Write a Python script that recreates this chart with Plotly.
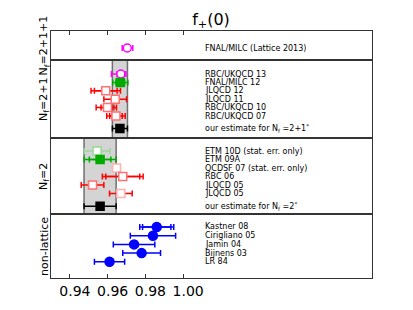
import plotly.graph_objects as go
from plotly.subplots import make_subplots

# ---------------- data ----------------
title_text = "f<sub>+</sub>(0)"
panel_names = ["N<sub>f</sub>=2+1+1", "N<sub>f</sub>=2+1", "N<sub>f</sub>=2", "non-lattice"]
tick_vals = [0.94, 0.96, 0.98, 1.00]
tick_text = ["0.94", "0.96", "0.98", "1.00"]

# Nf = 2+1+1
labels_4f = ["FNAL/MILC (Lattice 2013)"]
val_4f = [0.9704]
errp_4f = [0.0029]
errm_4f = [0.0027]
stat_4f = [0.0]

# Nf = 2+1
labels_3f = ["RBC/UKQCD 13", "FNAL/MILC 12", "JLQCD 12", "JLQCD 11", "RBC/UKQCD 10", "RBC/UKQCD 07"]
val_3f = [0.9670, 0.9667, 0.9590, 0.9640, 0.9599, 0.9644]
errp_3f = [0.0027, 0.0040, 0.0078, 0.0060, 0.0048, 0.0049]
errm_3f = [0.0050, 0.0040, 0.0078, 0.0060, 0.0060, 0.0049]
stat_3f = [0.0020, 0.0023, 0.0060, 0.0, 0.0034, 0.0033]
est_label_3f = "our estimate for N<sub>f</sub> =2+1<sup>*</sup>"
est_val_3f = 0.9665
est_err_3f = 0.0040

# Nf = 2
labels_2f = ["ETM 10D (stat. err. only)", "ETM 09A", "QCDSF 07 (stat. err. only)", "RBC 06", "JLQCD 05", "JLQCD 05"]
val_2f = [0.9544, 0.9560, 0.9647, 0.9680, 0.9520, 0.9670]
errp_2f = [0.0068, 0.0084, 0.0015, 0.0108, 0.0060, 0.0060]
errm_2f = [0.0068, 0.0084, 0.0015, 0.0108, 0.0060, 0.0060]
stat_2f = [0.0, 0.0057, 0.0, 0.0090, 0.0, 0.0]
est_label_2f = "our estimate for N<sub>f</sub> =2<sup>*</sup>"
est_val_2f = 0.9560
est_err_2f = 0.0085

# non-lattice
labels_nl = ["Kastner 08", "Cirigliano 05", "Jamin 04", "Bijnens 03", "LR 84"]
val_nl = [0.986, 0.984, 0.974, 0.978, 0.961]
errp_nl = [0.0090, 0.012, 0.011, 0.010, 0.008]
errm_nl = [0.0090, 0.012, 0.011, 0.010, 0.008]
stat_nl = [0.0075, 0.0, 0.0, 0.0, 0.0]

# ---------------- styles ----------------
MAG = "#ff00ff"
GRN = "#00aa00"
LGRN = "#99d699"
RED = "#ff0000"
PINK = "#ff7070"
LPINK = "#ffb0b0"
BLK = "#000000"
BLU = "#0000ff"

style_4f = [dict(sym="circle", bar=MAG, edge=MAG, fill="white", size=8)]
style_3f = [
    dict(sym="circle", bar=MAG, edge=MAG, fill="white", size=8),
    dict(sym="square", bar=GRN, edge=GRN, fill=GRN, size=8),
    dict(sym="square", bar=RED, edge=PINK, fill="white", size=8),
    dict(sym="square", bar=RED, edge=PINK, fill="white", size=8),
    dict(sym="square", bar=RED, edge=PINK, fill="white", size=8),
    dict(sym="square", bar=RED, edge=PINK, fill="white", size=8),
]
style_2f = [
    dict(sym="square", bar=LGRN, edge=LGRN, fill="white", size=8),
    dict(sym="square", bar=GRN, edge=GRN, fill=GRN, size=8),
    dict(sym="square", bar=LPINK, edge=LPINK, fill="white", size=8),
    dict(sym="square", bar=RED, edge=PINK, fill="white", size=8),
    dict(sym="square", bar=RED, edge=PINK, fill="white", size=8),
    dict(sym="square", bar=RED, edge=LPINK, fill="white", size=8),
]
style_est = dict(sym="square", bar=BLK, edge=BLK, fill=BLK, size=8)
style_nl = dict(sym="circle", bar=BLU, edge=BLU, fill=BLU, size=9)

FONT = "DejaVu Sans"

fig = make_subplots(rows=4, cols=1, shared_xaxes=True, vertical_spacing=0,
                    row_heights=[29, 78, 76, 64])


def add_point(row, y, val, ep, em, stat, st):
    if stat:
        fig.add_trace(go.Scatter(
            x=[val], y=[y], mode="markers",
            marker=dict(size=1, color="rgba(0,0,0,0)"),
            error_x=dict(type="data", symmetric=True, array=[stat],
                         color=st["bar"], thickness=1.5, width=3),
            showlegend=False, hoverinfo="skip"), row=row, col=1)
    fig.add_trace(go.Scatter(
        x=[val], y=[y], mode="markers",
        marker=dict(symbol=st["sym"], size=st["size"], color=st["fill"],
                    line=dict(color=st["edge"], width=1.5)),
        error_x=dict(type="data", symmetric=False, array=[ep], arrayminus=[em],
                     color=st["bar"], thickness=1.5, width=3),
        showlegend=False), row=row, col=1)


LABEL_X = 1.0106
annos = []


def add_label(row, y, text):
    yref = "y" if row == 1 else "y%d" % row
    xref = "x" if row == 1 else "x%d" % row
    annos.append(dict(x=LABEL_X, y=y, xref=xref, yref=yref, text=text,
                      showarrow=False, xanchor="left", yanchor="middle",
                      font=dict(family=FONT, size=8, color="black")))


# panel 1
for i in range(len(val_4f)):
    add_point(1, i, val_4f[i], errp_4f[i], errm_4f[i], stat_4f[i], style_4f[i])
    add_label(1, i, labels_4f[i])

# panel 2
for i in range(len(val_3f)):
    add_point(2, i, val_3f[i], errp_3f[i], errm_3f[i], stat_3f[i], style_3f[i])
    add_label(2, i, labels_3f[i])
ye = len(val_3f) + 0.5
add_point(2, ye, est_val_3f, est_err_3f, est_err_3f, 0, style_est)
add_label(2, ye, est_label_3f)

# panel 3
for i in range(len(val_2f)):
    add_point(3, i, val_2f[i], errp_2f[i], errm_2f[i], stat_2f[i], style_2f[i])
    add_label(3, i, labels_2f[i])
ye = len(val_2f) + 0.5
add_point(3, ye, est_val_2f, est_err_2f, est_err_2f, 0, style_est)
add_label(3, ye, est_label_2f)

# panel 4
for i in range(len(val_nl)):
    add_point(4, i, val_nl[i], errp_nl[i], errm_nl[i], stat_nl[i], style_nl)
    add_label(4, i, labels_nl[i])

# grey bands for estimates
for row, v, e in [(2, est_val_3f, est_err_3f), (3, est_val_2f, est_err_2f)]:
    fig.add_shape(type="rect", xref="x%d" % row, yref="y%d domain" % row,
                  x0=v - e, x1=v + e, y0=0, y1=1,
                  fillcolor="#d4d4d4", line=dict(color="#707070", width=1.5),
                  layer="below")

# panel side labels
for k, name in enumerate(panel_names):
    yref = "y domain" if k == 0 else "y%d domain" % (k + 1)
    annos.append(dict(x=-0.022, y=0.5, xref="paper", yref=yref, text=name,
                      textangle=-90, showarrow=False, xanchor="center", yanchor="middle",
                      font=dict(family=FONT, size=11, color="black")))

fig.update_layout(annotations=annos)

LINE = "#333333"
yranges = [[1.41, -2.0], [7.62, -1.67], [7.41, -1.53], [5.86, -1.49]]
for r in range(1, 5):
    fig.update_yaxes(range=yranges[r - 1], showticklabels=False, ticks="",
                     showgrid=False, zeroline=False, showline=True, mirror=True,
                     linecolor=LINE, linewidth=1.2, row=r, col=1)
    fig.update_xaxes(range=[0.93, 1.10], showgrid=False, zeroline=False,
                     showline=True, mirror=True, linecolor=LINE, linewidth=1.2,
                     ticks="", row=r, col=1)

fig.update_xaxes(side="top", ticks="inside", ticklen=4, tickcolor=LINE,
                 tickvals=tick_vals, showticklabels=False, row=1, col=1)
fig.update_xaxes(ticks="inside", ticklen=4, tickcolor=LINE,
                 tickvals=tick_vals, ticktext=tick_text, showticklabels=True,
                 ticklabelshift=5,
                 tickfont=dict(family=FONT, size=14, color="black"), row=4, col=1)

# page body has an 8px margin: figure is 405x302 placed at (8, 8)
# plot area on the page: x 51..372, y 31..278
fig.update_layout(
    width=405, height=302,
    margin=dict(l=43, r=41, t=23, b=32),
    paper_bgcolor="white", plot_bgcolor="white",
    title=dict(text=title_text, x=203 / 405, xanchor="center", y=1 - 11 / 302,
               yanchor="middle", yref="container",
               font=dict(family=FONT, size=16, color="black")),
    showlegend=False,
)

fig.write_html("out.html")
